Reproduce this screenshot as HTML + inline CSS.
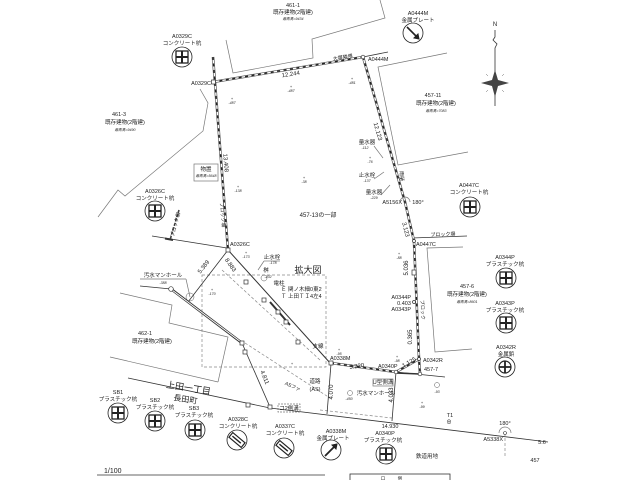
<!DOCTYPE html>
<html><head><meta charset="utf-8"><style>
html,body{margin:0;padding:0;background:#fff;}
svg{display:block;}
text{font-family:"Liberation Sans","Noto Sans CJK JP",sans-serif;fill:#222;}
.t{font-size:5.5px;text-anchor:middle;}
.s{font-size:3.6px;text-anchor:middle;font-style:italic;}
.th{stroke:#777;stroke-width:0.7;fill:none;}
.tk{stroke:#333;stroke-width:0.8;fill:none;}
.bd{stroke:#555;stroke-width:2.6;fill:none;}
.bm{stroke:#fff;stroke-width:1.3;fill:none;}
.bw{stroke:#222;stroke-width:1.4;fill:none;stroke-dasharray:3 3.5;}
.ds{stroke:#888;stroke-width:0.7;fill:none;stroke-dasharray:3 2;}
.sq{fill:#fff;stroke:#333;stroke-width:0.7;}
</style></head><body>
<svg width="640" height="480" viewBox="0 0 640 480" xmlns="http://www.w3.org/2000/svg">
<rect width="640" height="480" fill="#fff"/>

<!-- buildings -->
<polyline class="th" points="226,40 233,73 313,58 312,39 385,18 380,0"/>
<polyline class="th" points="98,217 118,190 125,196 203,131 208,103 200,89"/>
<polyline class="th" points="447,53 378,67 398,165 468,152"/>
<polyline class="th" points="463,247 427,248 435,352 472,349"/>
<polyline class="th" points="120,293 172,305 169,323 228,337 218,382"/>
<line class="th" x1="110" y1="357" x2="218" y2="382"/>
<rect class="th" x="194" y="164" width="24" height="17"/>

<!-- dashed enlargement area -->
<rect class="ds" x="202" y="275" width="124" height="92"/>
<line class="ds" x1="222" y1="270" x2="320" y2="360"/>
<line class="ds" x1="245" y1="343" x2="330" y2="398"/>
<line class="ds" x1="320" y1="410" x2="392" y2="418"/>
<line class="ds" x1="505" y1="433" x2="505" y2="456"/>

<!-- misc thin lines -->
<line class="tk" x1="363" y1="57" x2="388" y2="52"/>
<line class="tk" x1="140" y1="286" x2="171" y2="289"/>
<line class="tk" x1="228" y1="250" x2="188" y2="302"/>
<polyline class="tk" points="128,378 270,408 540,441 548,442"/>
<line class="tk" x1="331" y1="364" x2="327" y2="414"/>
<line class="tk" x1="396" y1="372" x2="392" y2="421"/>
<line class="tk" x1="396" y1="372" x2="445" y2="377"/>
<line class="tk" x1="152" y1="236" x2="227" y2="248"/>
<line stroke="#333" stroke-width="2" x1="165" y1="238.5" x2="173" y2="240"/>
<line class="tk" x1="412" y1="238" x2="467" y2="236"/>
<line stroke="#444" stroke-width="1.6" stroke-dasharray="3 1.5" x1="179" y1="210" x2="170" y2="240"/>
<line class="tk" x1="242" y1="343" x2="270" y2="407"/>
<!-- double line from manhole -->
<line stroke="#333" stroke-width="2.6" x1="171" y1="289" x2="242" y2="343"/>
<line stroke="#fff" stroke-width="0.9" x1="172" y1="290" x2="241" y2="342"/>
<!-- 8.883 line -->
<line stroke="#333" stroke-width="1" x1="228" y1="250" x2="331" y2="364"/>
<line stroke="#333" stroke-width="2" x1="270" y1="302" x2="290" y2="325"/>

<!-- main boundaries -->
<g>
<polyline class="bd" points="213,57 228,250"/>
<polyline class="bm" points="213,57 228,250"/>
<polyline class="bw" points="213,57 228,250"/>
<polyline class="bd" points="213,82 363,57"/>
<polyline class="bm" points="213,82 363,57"/>
<polyline class="bw" points="213,82 363,57"/>
<polyline class="bd" points="363,57 405,202 414,241 419,359 420,374"/>
<polyline class="bm" points="363,57 405,202 414,241 419,359 420,374"/>
<polyline class="bw" points="363,57 405,202 414,241 419,359 420,374"/>
<polyline class="bd" points="331,363 396,372 419,359"/>
<polyline class="bm" points="331,363 396,372 419,359"/>
<polyline class="bw" points="331,363 396,372 419,359"/>
</g>
<line stroke="#333" stroke-width="1.6" x1="396" y1="373" x2="420" y2="374"/>

<!-- small markers -->
<g class="sq">
<rect x="226" y="248" width="4" height="4"/><rect x="211.5" y="80" width="4" height="4"/>
<rect x="244" y="280" width="4" height="4"/><rect x="262" y="298" width="4" height="4"/>
<rect x="276" y="310" width="4" height="4"/><rect x="284" y="320" width="4" height="4"/>
<rect x="296" y="340" width="4" height="4"/><rect x="329" y="361" width="4" height="4"/>
<rect x="240" y="341" width="4" height="4"/><rect x="243" y="350" width="4" height="4"/>
<rect x="246" y="403" width="4" height="4"/><rect x="268" y="405" width="4" height="4"/>
<rect x="412" y="270" width="4" height="5"/>
</g>
<circle cx="171" cy="289" r="2.3" fill="#fff" stroke="#333" stroke-width="0.7"/>
<circle cx="363" cy="57" r="1.8" fill="#fff" stroke="#333" stroke-width="0.7"/>
<circle cx="396" cy="372" r="1.8" fill="#fff" stroke="#333" stroke-width="0.7"/>
<circle cx="420" cy="374" r="1.8" fill="#fff" stroke="#333" stroke-width="0.7"/>
<circle cx="419" cy="359" r="1.5" fill="#fff" stroke="#333" stroke-width="0.7"/>
<circle cx="414" cy="302" r="1.5" fill="#fff" stroke="#333" stroke-width="0.7"/>
<circle cx="414" cy="241" r="1.5" fill="#fff" stroke="#333" stroke-width="0.7"/>
<circle cx="190" cy="297" r="4" fill="none" stroke="#555" stroke-width="0.5"/>
<circle cx="264" cy="278" r="3" fill="none" stroke="#555" stroke-width="0.5"/>
<circle cx="350" cy="393" r="2.5" fill="none" stroke="#555" stroke-width="0.5"/>
<circle cx="437" cy="385" r="2.5" fill="none" stroke="#555" stroke-width="0.5"/>
<path d="M400,202 A5,5 0 1,1 410,202" class="th" stroke="#333"/>
<path d="M499,433 A6,6 0 1,1 511,433" class="th" stroke="#333"/>
<circle cx="505" cy="433" r="1.5" fill="#fff" stroke="#333" stroke-width="0.6"/>

<!-- elevation marks -->
<g font-size="4" text-anchor="middle">
<text x="232" y="100">+</text><text x="291" y="88">+</text><text x="352" y="80">+</text>
<text x="304" y="179">+</text><text x="238" y="188">+</text><text x="370" y="159">+</text>
<text x="399" y="255">+</text><text x="397" y="358">+</text><text x="339" y="351">+</text>
<text x="422" y="404">+</text><text x="246" y="254">+</text><text x="212" y="291">+</text>
<text x="292" y="365">+</text>
</g>
<g class="s">
<text x="232" y="104">-487</text><text x="291" y="92">-487</text><text x="352" y="84">-481</text>
<text x="304" y="183">-38</text><text x="238" y="192">-138</text><text x="370" y="163">-76</text>
<text x="399" y="259">-88</text><text x="397" y="362">-98</text><text x="339" y="355">-95</text>
<text x="422" y="408">-99</text><text x="246" y="258">-173</text><text x="212" y="295">-170</text>
<text x="437" y="393">-93</text>
</g>

<!-- north arrow -->
<text x="495" y="26" font-size="6" text-anchor="middle">N</text>
<polyline class="tk" points="495,30 495,37 493,40 497,44 495,48 495,106"/>
<path d="M495,70 L498,80 L509,83 L498,86 L495,97 L492,86 L481,83 L492,80 Z" fill="#444"/>
<g stroke="#666" stroke-width="0.5"><line x1="486" y1="74" x2="488" y2="76"/><line x1="504" y1="74" x2="502" y2="76"/><line x1="486" y1="92" x2="488" y2="90"/><line x1="504" y1="92" x2="502" y2="90"/></g>

<!-- symbols: cross -->
<g stroke="#222" fill="none">
<g transform="translate(182,57)"><circle r="10" stroke-width="0.8"/><rect x="-6" y="-6" width="12" height="12" stroke-width="1.3"/><path d="M0,-6V6M-6,0H6" stroke-width="2"/></g>
<g transform="translate(155,211)"><circle r="10" stroke-width="0.8"/><rect x="-6" y="-6" width="12" height="12" stroke-width="1.3"/><path d="M0,-6V6M-6,0H6" stroke-width="2"/></g>
<g transform="translate(470,207)"><circle r="10" stroke-width="0.8"/><rect x="-6" y="-6" width="12" height="12" stroke-width="1.3"/><path d="M0,-6V6M-6,0H6" stroke-width="2"/></g>
<g transform="translate(506,278)"><circle r="10" stroke-width="0.8"/><rect x="-6" y="-6" width="12" height="12" stroke-width="1.3"/><path d="M0,-6V6M-6,0H6" stroke-width="2"/></g>
<g transform="translate(506,323)"><circle r="10" stroke-width="0.8"/><rect x="-6" y="-6" width="12" height="12" stroke-width="1.3"/><path d="M0,-6V6M-6,0H6" stroke-width="2"/></g>
<g transform="translate(118,413)"><circle r="10" stroke-width="0.8"/><rect x="-6" y="-6" width="12" height="12" stroke-width="1.3"/><path d="M0,-6V6M-6,0H6" stroke-width="2"/></g>
<g transform="translate(155,421)"><circle r="10" stroke-width="0.8"/><rect x="-6" y="-6" width="12" height="12" stroke-width="1.3"/><path d="M0,-6V6M-6,0H6" stroke-width="2"/></g>
<g transform="translate(195,430)"><circle r="10" stroke-width="0.8"/><rect x="-6" y="-6" width="12" height="12" stroke-width="1.3"/><path d="M0,-6V6M-6,0H6" stroke-width="2"/></g>
<g transform="translate(386,454)"><circle r="10" stroke-width="0.8"/><rect x="-6" y="-6" width="12" height="12" stroke-width="1.3"/><path d="M0,-6V6M-6,0H6" stroke-width="2"/></g>
<!-- metal tack -->
<g transform="translate(505,367)"><circle r="10" stroke-width="0.8"/><circle r="6" stroke-width="1.2"/><path d="M0,-6V6M-6,0H6" stroke-width="1.8"/></g>
<!-- metal plates -->
<g transform="translate(413,33)"><circle r="10" stroke-width="0.8"/><path d="M-6,-6L5,5" stroke-width="1.6"/><path d="M6,6L1,5L5,1Z" fill="#222"/></g>
<g transform="translate(331,450)"><circle r="10" stroke-width="0.8"/><path d="M-6,6L5,-5" stroke-width="1.8"/><path d="M6,-6L1,-5L5,-1Z" fill="#222"/></g>
<!-- concrete arrow -->
<g transform="translate(237,440)"><circle r="10" stroke-width="0.8"/><g transform="rotate(40)"><rect x="-8" y="-3" width="16" height="6" stroke-width="1.2"/><path d="M-6,0H5" stroke-width="1.4"/></g></g>
<g transform="translate(284,448)"><circle r="10" stroke-width="0.8"/><g transform="rotate(40)"><rect x="-8" y="-3" width="16" height="6" stroke-width="1.2"/><path d="M-6,0H5" stroke-width="1.4"/></g></g>
</g>

<!-- labels -->
<g class="t">
<text x="293" y="7">461-1</text><text x="293" y="14">既存建物(2階建)</text>
<text x="182" y="38">A0329C</text><text x="182" y="45">コンクリート杭</text>
<text x="418" y="15">A0444M</text><text x="418" y="22">金属プレート</text>
<text x="119" y="116">461-3</text><text x="125" y="124">既存建物(2階建)</text>
<text x="433" y="97">457-11</text><text x="436" y="105">既存建物(2階建)</text>
<text x="206" y="171">物置</text>
<text x="318" y="217" font-size="6">457-13の一部</text>
<text x="155" y="193">A0326C</text><text x="155" y="200">コンクリート杭</text>
<text x="469" y="187">A0447C</text><text x="469" y="194">コンクリート杭</text>
<text x="505" y="259">A0344P</text><text x="505" y="266">プラスチック杭</text>
<text x="467" y="288">457-6</text><text x="467" y="296">既存建物(2階建)</text>
<text x="505" y="305">A0343P</text><text x="505" y="312">プラスチック杭</text>
<text x="506" y="349">A0342R</text><text x="506" y="356">金属鋲</text>
<text x="145" y="335">462-1</text><text x="152" y="343">既存建物(2階建)</text>
<text x="118" y="394">SB1</text><text x="118" y="401">プラスチック杭</text>
<text x="155" y="402">SB2</text><text x="155" y="409">プラスチック杭</text>
<text x="194" y="410">SB3</text><text x="194" y="417">プラスチック杭</text>
<text x="238" y="421">A0328C</text><text x="238" y="428">コンクリート杭</text>
<text x="285" y="428">A0337C</text><text x="285" y="435">コンクリート杭</text>
<text x="336" y="433">A0338M</text><text x="333" y="440">金属プレート</text>
<text x="385" y="435">A0340P</text><text x="383" y="442">プラスチック杭</text>
<text x="427" y="458">鉄道用地</text>
<text x="367" y="144">量水器</text><text x="367" y="177">止水栓</text><text x="374" y="194">量水器</text>
<text x="163" y="277">汚水マンホール</text>
<text x="272" y="259">止水栓</text><text x="266" y="272">桝</text>
<text x="279" y="285">電柱</text>
<text x="318" y="348">支線</text>
<text x="315" y="383">道路</text><text x="315" y="391">(AS)</text>
<text x="383" y="384">U型側溝</text>
<text x="376" y="395">汚水マンホール</text>
<text x="289" y="410">コ2側溝</text>
<text x="390" y="428">14.930</text>
<text x="450" y="417">T1</text><text x="449" y="424">⊕</text>
<text x="505" y="425">180°</text>
<text x="418" y="204">180°</text>
<text x="542" y="444">5.6</text><text x="535" y="462">457</text>
<text x="404" y="305">0.403</text>
</g>
<g class="s">
<text x="293" y="20">最高高=9434</text><text x="125" y="131">最高高=9490</text>
<text x="436" y="112">最高高=7083</text><text x="206" y="177">最高高=5648</text>
<text x="467" y="303">最高高=8601</text><text x="163" y="284">-388</text>
<text x="273" y="264">-178</text><text x="268" y="278">-202</text>
<text x="365" y="149">-112</text><text x="367" y="182">-137</text><text x="374" y="199">-229</text>
<text x="349" y="400">-450</text>
</g>
<g font-size="5.5">
<text x="211" y="85" text-anchor="end">A0329C</text>
<text x="368" y="61">A0444M</text>
<text x="402" y="204" text-anchor="end">A5156X</text>
<text x="416" y="246">A0447C</text>
<text x="230" y="246">A0326C</text>
<text x="411" y="299" text-anchor="end">A0344P</text>
<text x="411" y="311" text-anchor="end">A0343P</text>
<text x="423" y="362">A0342R</text>
<text x="424" y="371">457-7</text>
<text x="330" y="360">A0338M</text>
<text x="378" y="368">A0340P</text>
<text x="503" y="441" text-anchor="end">A5338X</text>
<text x="281" y="291">Ｅ 関ノ木細0東2</text>
<text x="281" y="298">Ｔ 上田ＴＩ4左4</text>
</g>
<g font-size="6" text-anchor="middle">
<text transform="translate(291,76) rotate(-9)">12.244</text>
<text transform="translate(343,59) rotate(-9)" font-size="5">大塀隣堺</text>
<text transform="translate(224,163) rotate(85)">13.408</text>
<text transform="translate(376,132) rotate(74)">12.123</text>
<text transform="translate(404,230) rotate(76)">3.123</text>
<text transform="translate(408,268) rotate(-90)">5.036</text>
<text transform="translate(412,337) rotate(-90)">0.365</text>
<text transform="translate(357,368) rotate(-8)">5.220</text>
<text transform="translate(410,364) rotate(-30)">1.125</text>
<text transform="translate(205,268) rotate(-52)">5.389</text>
<text transform="translate(229,266) rotate(55)">8.883</text>
<text transform="translate(263,378) rotate(68)">4.811</text>
<text transform="translate(333,392) rotate(-90)">4.070</text>
<text transform="translate(393,395) rotate(-90)">4.033</text>
<text transform="translate(400,176) rotate(90)" font-size="5">雨樋</text>
<text transform="translate(221,215) rotate(85)" font-size="5">ブロック塀</text>
<text transform="translate(177,225) rotate(-75)" font-size="5">ブロック塀</text>
<text transform="translate(421,310) rotate(88)" font-size="5">ブロック</text>
<text transform="translate(443,236) rotate(-2)" font-size="5">ブロック塀</text>
<text transform="translate(292,388) rotate(25)" font-size="5">ASファ</text>
</g>
<text x="308" y="273" font-size="9" text-anchor="middle">拡大図</text>
<text transform="translate(188,391) rotate(9)" font-size="9" text-anchor="middle">上田一丁目</text>
<text transform="translate(185,402) rotate(9)" font-size="8" text-anchor="middle">長田町</text>
<text x="104" y="473" font-size="7">1/100</text>

<!-- label leader lines -->
<g class="th">
<line x1="140" y1="279" x2="186" y2="279"/>
<line x1="186" y1="279" x2="190" y2="297"/>
<line x1="264" y1="261" x2="280" y2="261"/>
<line x1="264" y1="261" x2="258" y2="270"/>
<line x1="374" y1="146" x2="383" y2="158"/>
<line x1="374" y1="179" x2="384" y2="172"/>
<line x1="381" y1="195" x2="390" y2="185"/>
<rect x="373" y="379" width="20" height="7"/>
<rect x="278" y="404" width="22" height="8" stroke-dasharray="2 1"/>
</g>

<!-- bottom frames -->
<line class="tk" x1="97" y1="475" x2="325" y2="475"/>
<rect x="350" y="474" width="100" height="10" fill="none" stroke="#333" stroke-width="0.8"/>
<text x="383" y="480" font-size="4.5" text-anchor="middle">口</text>
<text x="400" y="480" font-size="4.5" text-anchor="middle">例</text>
</svg>
</body></html>
